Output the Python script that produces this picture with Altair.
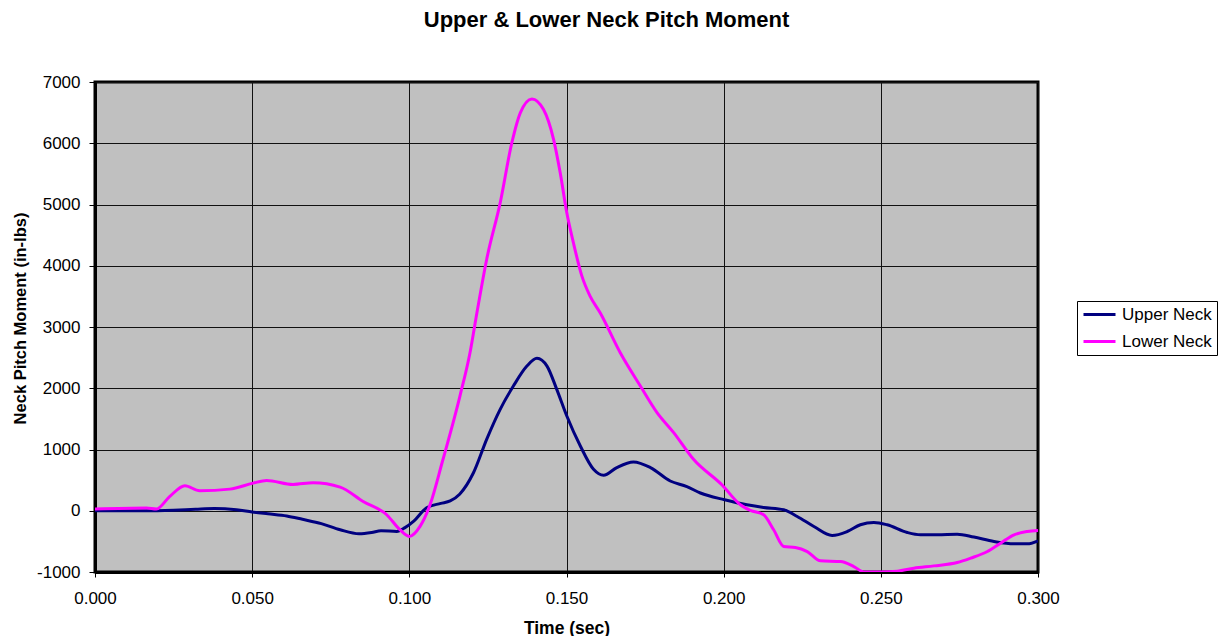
import altair as alt
import pandas as pd

# Upper neck pitch moment (time in sec, moment in in-lbs)
upper_t = [0.000, 0.008, 0.016, 0.025, 0.032, 0.038, 0.045, 0.050, 0.055, 0.061,
           0.066, 0.072, 0.078, 0.084, 0.088, 0.091, 0.096, 0.0985, 0.1015, 0.1055,
           0.110, 0.113, 0.116, 0.1204, 0.1246, 0.1289, 0.1331, 0.1374, 0.1406, 0.1438,
           0.1469, 0.1501, 0.1544, 0.1586, 0.1618, 0.166, 0.1713, 0.1767, 0.183, 0.1883,
           0.1926, 0.2003, 0.2074, 0.2127, 0.2191, 0.2234, 0.2287, 0.2345, 0.2393, 0.2435,
           0.2478, 0.252, 0.2584, 0.2626, 0.268, 0.2743, 0.2796, 0.286, 0.2924, 0.2966, 0.300]
upper_v = [0, 0, 0, 10, 25, 35, 15, -20, -50, -85,
           -140, -210, -310, -375, -355, -326, -337, -280, -165, 50,
           120, 160, 270, 620, 1166, 1656, 2036, 2362, 2490, 2362,
           1982, 1547, 1057, 677, 579, 705, 796, 705, 486, 395,
           290, 180, 98, 54, 16, -93, -257, -404, -339, -229,
           -191, -229, -355, -393, -393, -382, -430, -502, -540, -540, -490]

# Lower neck pitch moment
lower_t = [0.000, 0.0164, 0.0195, 0.0238, 0.0286, 0.0333, 0.0429, 0.0503, 0.0546, 0.063,
           0.0694, 0.078, 0.0853, 0.0928, 0.097, 0.100, 0.1034, 0.1066, 0.1105, 0.1161,
           0.1193, 0.1215, 0.1246, 0.1289, 0.1326, 0.1353, 0.139, 0.1427, 0.1459, 0.148,
           0.1501, 0.1522, 0.1549, 0.1575, 0.1607, 0.1671, 0.1735, 0.1788, 0.1841, 0.1904,
           0.1995, 0.2053, 0.2085, 0.2127, 0.2159, 0.2191, 0.2228, 0.2266, 0.2308, 0.2372,
           0.2414, 0.2446, 0.2499, 0.2552, 0.2605, 0.2669, 0.2743, 0.2786, 0.2839, 0.2881,
           0.2924, 0.2966, 0.300]
lower_v = [28, 44, 28, 234, 408, 326, 353, 451, 495, 430,
           457, 386, 152, -65, -310, -419, -256, 100, 800, 1873,
           2580, 3233, 4103, 5027, 6006, 6496, 6724, 6550, 6060, 5517,
           4865, 4375, 3830, 3504, 3233, 2580, 2036, 1602, 1276, 840,
           420, 98, 5, -65, -311, -584, -600, -666, -818, -829,
           -911, -998, -1000, -987, -938, -900, -846, -774, -666, -529,
           -393, -339, -322]

series_names = ["Upper Neck", "Lower Neck"]
series_colors = ["#000080", "#FF00FF"]
x_ticks = [0.0, 0.05, 0.10, 0.15, 0.20, 0.25, 0.30]
y_ticks = [-1000, 0, 1000, 2000, 3000, 4000, 5000, 6000, 7000]

df = pd.concat([
    pd.DataFrame({"t": upper_t, "v": upper_v, "series": series_names[0], "order": range(len(upper_t))}),
    pd.DataFrame({"t": lower_t, "v": lower_v, "series": series_names[1], "order": range(len(lower_t))}),
])

FONT = "Liberation Sans"

chart = alt.Chart(df).mark_line(strokeWidth=3, interpolate="monotone", clip=True).encode(
    x=alt.X("t:Q", scale=alt.Scale(domain=[0, 0.3], nice=False, zero=False),
            axis=alt.Axis(values=x_ticks, format=".3f", title="Time (sec)",
                          titleFontSize=17.5, titleFont=FONT, titleFontWeight="bold",
                          titleBaseline="alphabetic", titleY=61,
                          labelFontSize=17, labelFont=FONT, labelPadding=13,
                          labelColor="black", titleColor="black",
                          tickSize=5, tickColor="black",
                          domain=True, domainColor="black", domainWidth=3,
                          grid=True, gridColor="#111111", gridWidth=1, labelFlush=False)),
    y=alt.Y("v:Q", scale=alt.Scale(domain=[-1000, 7000], nice=False),
            axis=alt.Axis(values=y_ticks, labelExpr="toString(datum.value)",
                          title="Neck Pitch Moment (in-lbs)",
                          titleFontSize=16.5, titleFont=FONT, titleFontWeight="bold",
                          titleAngle=270, titleBaseline="middle", titleX=-75, titleY=236,
                          labelFontSize=17, labelFont=FONT, labelPadding=9,
                          labelColor="black", titleColor="black",
                          tickSize=6, tickColor="black",
                          domain=True, domainColor="black", domainWidth=3,
                          grid=True, gridColor="#111111", gridWidth=1)),
    color=alt.Color("series:N", scale=alt.Scale(domain=series_names, range=series_colors),
                    legend=alt.Legend(orient="none", legendX=982, legendY=219, title=None,
                                      strokeColor="black", fillColor="white", padding=5,
                                      symbolType="M-3.2,0H3.2", symbolSize=100,
                                      symbolStrokeWidth=3, labelFontSize=17, labelFont=FONT,
                                      labelColor="black", labelOffset=14, symbolOffset=9,
                                      rowPadding=9, cornerRadius=0)),
    order="order:Q",
).properties(
    width=943,
    height=490,
    view=alt.ViewBackground(fill="#C0C0C0", stroke="black", strokeWidth=3),
    title=alt.TitleParams("Upper & Lower Neck Pitch Moment", fontSize=22, font=FONT,
                          fontWeight="bold", anchor="middle", frame="group", dx=40,
                          offset=41, color="black"),
    autosize=alt.AutoSizeParams(type="none"),
    padding={"left": 87, "top": 74, "right": 181, "bottom": 64},
).configure_view(
    fill="#C0C0C0", stroke="black", strokeWidth=3
).configure(background="white")

chart.save("out.html", embed_options={"renderer": "svg", "actions": False})
